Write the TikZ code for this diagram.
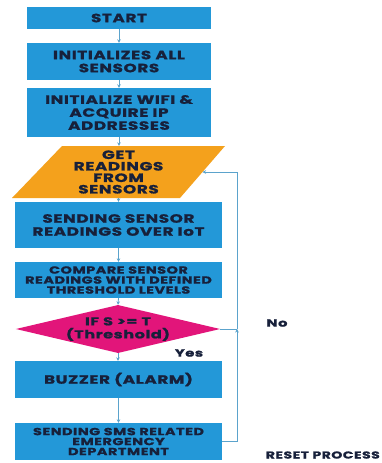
\documentclass[tikz,border=0pt]{standalone}
\usepackage{fontspec}
\setmainfont{Poppins}[BoldFeatures={FakeStretch=1.4,FakeBold=1.2,LetterSpace=5}]
\usetikzlibrary{shapes.geometric,arrows.meta}
\definecolor{boxblue}{HTML}{2398D8}
\definecolor{paraorange}{HTML}{F4A11C}
\definecolor{decmag}{HTML}{E2157A}
\definecolor{txtnavy}{HTML}{17203A}
\definecolor{arrowblue}{HTML}{5BA3CC}
\tikzset{
  stepbox/.style={rectangle, fill=boxblue, draw=none, minimum width=184pt, inner sep=0pt,
     text=txtnavy, align=center, font=\fontsize{12}{13}\selectfont\bfseries},
  widebox/.style={stepbox, minimum width=207pt},
  smalltxt/.style={font=\fontsize{10.3}{10}\selectfont\bfseries},
  conn/.style={draw=arrowblue, line width=0.8pt, -{Stealth[length=3.5pt,width=3.5pt]}},
  lbl/.style={text=txtnavy, font=\fontsize{10.5}{12}\selectfont\bfseries, inner sep=0pt}
}
\begin{document}
\begin{tikzpicture}[x=1pt,y=-1pt]
\useasboundingbox[fill=white] (0,0) rectangle (381,463);
\node[stepbox, minimum height=22pt] (start) at (119,18) {START};
\node[stepbox, minimum height=37pt] (init) at (119,61.5) {INITIALIZES ALL\\SENSORS};
\node[stepbox, minimum height=49pt] (wifi) at (119,112.5) {INITIALIZE WIFI \&\\ACQUIRE IP\\ADDRESSES};
% parallelogram
\fill[paraorange] (62,146) -- (225,146) -- (180,198) -- (12,198) -- cycle;
\node[minimum width=120pt, minimum height=52pt, inner sep=0pt, text=txtnavy, align=center,
      font=\fontsize{12}{11.5}\selectfont\bfseries] (get) at (118.5,172) {GET\\READINGS\\FROM\\SENSORS};
\coordinate (getR) at (202.5,172);
\node[widebox, minimum height=46pt] (iot) at (118.5,225) {SENDING SENSOR\\READINGS OVER IoT};
\node[widebox, minimum height=36pt, smalltxt] (cmp) at (118.5,280) {COMPARE SENSOR\\READINGS WITH DEFINED\\THRESHOLD LEVELS};
\node[diamond, fill=decmag, inner sep=0pt, minimum width=204pt, minimum height=48pt, aspect=4.25,
      text=txtnavy, align=center, font=\fontsize{11.5}{13}\selectfont\bfseries] (dec) at (118,329) {IF S >= T\\(Threshold)};
\node[widebox, minimum height=37pt] (buz) at (118.5,379.5) {BUZZER (ALARM)};
\node[widebox, minimum height=37pt, smalltxt] (sms) at (118.5,441.5) {SENDING SMS RELATED\\EMERGENCY\\DEPARTMENT};
\coordinate (loopB) at (237,441.5);
\coordinate (loopM) at (237,329);
\coordinate (loopT) at (237,172);
% connectors
\draw[conn] (start) -- (init);
\draw[conn] (init) -- (wifi);
\draw[conn] (wifi) -- (wifi.south |- get.north);
\draw[conn] (get.south) -- (get.south |- iot.north);
\draw[conn] (iot) -- (cmp);
\draw[conn] (cmp.south) -- (dec.north);
\draw[conn] (dec.south) -- (buz.north -| dec.south);
\draw[conn] (buz) -- (sms);
\draw[conn] (sms.east) -- (loopB) -- (loopM);
\draw[draw=arrowblue, line width=0.8pt] (dec.east) -- (loopM);
\draw[conn] (loopM) -- (loopT) -- (getR);
\node[lbl] (no) at (277,323) {No};
\node[lbl] (yes) at (189,353) {Yes};
\node[lbl, anchor=east, font=\fontsize{10}{12}\selectfont\bfseries] (reset) at (380,455) {RESET PROCESS};
\end{tikzpicture}
\end{document}
